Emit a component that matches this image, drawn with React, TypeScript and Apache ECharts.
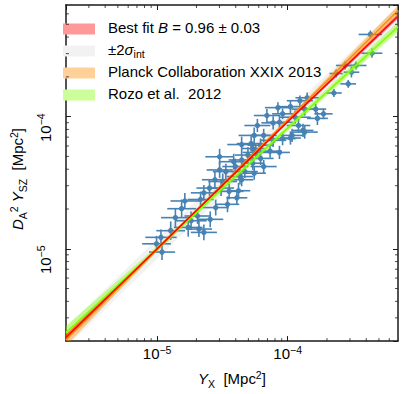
import React, { useEffect, useRef } from 'react';
import * as echarts from 'echarts';

// ---- Data ----
const axisMin = 2e-6;
const axisMax = 7e-4;

// Y_X [Mpc^2]
const yxValues = [
  4.30e-4, 4.42e-4, 2.75e-4, 3.34e-4, 3.08e-4, 2.35e-4, 2.91e-4, 2.26e-4,
  1.41e-4, 1.24e-4, 1.05e-4, 8.42e-5, 1.64e-4, 1.35e-4, 6.93e-5, 9.14e-5,
  1.88e-4, 1.14e-4, 1.69e-4, 8.65e-5, 7.74e-5, 1.31e-4, 1.35e-4, 1.08e-4,
  9.14e-5, 1.05e-4, 6.55e-5, 5.54e-5, 7.74e-5, 5.25e-5, 6.20e-5, 4.44e-5,
  7.33e-5, 8.65e-5, 5.70e-5, 4.96e-5, 6.20e-5, 4.44e-5, 3.86e-5, 5.40e-5,
  3.97e-5, 3.01e-5, 3.01e-5, 4.69e-5, 3.36e-5, 5.54e-5, 4.31e-5, 4.44e-5,
  2.77e-5, 3.18e-5, 2.52e-5, 3.09e-5, 3.56e-5, 4.20e-5, 2.28e-5, 4.08e-5,
  2.15e-5, 1.63e-5, 2.81e-5, 3.46e-5, 1.54e-5, 2.04e-5, 1.38e-5, 2.55e-5,
  1.82e-5, 1.73e-5, 2.09e-5, 2.28e-5, 1.07e-5, 1.27e-5, 9.89e-6, 1.09e-5,
  5.86e-5, 1.21e-4, 5.40e-5, 6.55e-5,
];
// D_A^2 Y_SZ [Mpc^2]
const yszValues = [
  4.19e-4, 3.02e-4, 2.44e-4, 2.44e-4, 2.17e-4, 2.12e-4, 1.77e-4, 1.51e-4,
  1.39e-4, 1.32e-4, 1.19e-4, 1.17e-4, 1.14e-4, 1.14e-4, 1.02e-4, 1.05e-4,
  1.05e-4, 9.90e-5, 9.70e-5, 9.07e-5, 8.97e-5, 7.87e-5, 7.64e-5, 7.21e-5,
  6.81e-5, 6.89e-5, 7.21e-5, 7.21e-5, 6.62e-5, 6.25e-5, 6.08e-5, 6.15e-5,
  5.48e-5, 5.36e-5, 5.36e-5, 5.12e-5, 4.83e-5, 4.70e-5, 4.56e-5, 4.44e-5,
  4.19e-5, 4.97e-5, 3.95e-5, 3.84e-5, 3.84e-5, 3.73e-5, 3.52e-5, 3.33e-5,
  3.33e-5, 3.23e-5, 2.88e-5, 2.88e-5, 2.72e-5, 2.75e-5, 2.65e-5, 2.43e-5,
  2.36e-5, 2.30e-5, 2.05e-5, 2.17e-5, 2.01e-5, 1.77e-5, 1.72e-5, 1.67e-5,
  1.63e-5, 1.45e-5, 1.41e-5, 1.33e-5, 1.22e-5, 1.37e-5, 1.09e-5, 9.44e-6,
  8.57e-5, 8.57e-5, 5.74e-5, 4.19e-5,
];
// half-length of the error bars, in dex
const yxErrDex = [
  0.09, 0.08, 0.07, 0.08, 0.06, 0.05, 0.06, 0.06,
  0.09, 0.10, 0.10, 0.10, 0.08, 0.10, 0.10, 0.08,
  0.07, 0.12, 0.08, 0.10, 0.09, 0.08, 0.10, 0.09,
  0.10, 0.08, 0.10, 0.12, 0.10, 0.11, 0.10, 0.11,
  0.09, 0.08, 0.10, 0.10, 0.10, 0.10, 0.11, 0.09,
  0.10, 0.11, 0.10, 0.10, 0.10, 0.09, 0.10, 0.09,
  0.10, 0.11, 0.10, 0.10, 0.11, 0.09, 0.10, 0.08,
  0.10, 0.11, 0.10, 0.09, 0.11, 0.10, 0.11, 0.10,
  0.12, 0.11, 0.10, 0.10, 0.12, 0.11, 0.11, 0.10,
  0.10, 0.09, 0.09, 0.10,
];
const yszErrDex = [
  0.03, 0.035, 0.03, 0.03, 0.04, 0.03, 0.03, 0.03,
  0.04, 0.04, 0.05, 0.04, 0.04, 0.05, 0.05, 0.04,
  0.04, 0.05, 0.05, 0.05, 0.05, 0.05, 0.05, 0.05,
  0.05, 0.05, 0.05, 0.06, 0.05, 0.06, 0.05, 0.06,
  0.05, 0.05, 0.05, 0.06, 0.05, 0.06, 0.06, 0.05,
  0.06, 0.06, 0.06, 0.05, 0.06, 0.05, 0.06, 0.05,
  0.06, 0.06, 0.06, 0.06, 0.06, 0.06, 0.06, 0.05,
  0.06, 0.06, 0.06, 0.06, 0.07, 0.06, 0.07, 0.06,
  0.07, 0.07, 0.06, 0.06, 0.06, 0.07, 0.06, 0.06,
  0.05, 0.05, 0.05, 0.05,
];

// relations sampled at these Y_X values
const bandX = [2e-6, 1e-5, 1e-4, 7e-4];
const bestFit = [2.13e-6, 1.0e-5, 9.15e-5, 5.75e-4];
const bestFitLo = [2.03e-6, 0.98e-5, 8.95e-5, 5.5e-4];
const bestFitHi = [2.24e-6, 1.02e-5, 9.35e-5, 6.0e-4];
const sigmaLo = [1.79e-6, 8.4e-6, 7.7e-5, 4.83e-4];
const sigmaHi = [2.53e-6, 1.19e-5, 1.09e-4, 6.84e-4];
const planck = [2.04e-6, 9.9e-6, 9.44e-5, 6.37e-4];
const planckLo = [1.84e-6, 9.56e-6, 9.12e-5, 5.85e-4];
const planckHi = [2.26e-6, 1.025e-5, 9.77e-5, 6.94e-4];
const rozo = [2.32e-6, 1.0e-5, 8.18e-5, 4.78e-4];
const rozoLo = [2.07e-6, 9.55e-6, 7.81e-5, 4.39e-4];
const rozoHi = [2.6e-6, 1.047e-5, 8.57e-5, 5.2e-4];

const minorTicks = [
  3e-6, 4e-6, 5e-6, 6e-6, 7e-6, 8e-6, 9e-6,
  2e-5, 3e-5, 4e-5, 5e-5, 6e-5, 7e-5, 8e-5, 9e-5,
  2e-4, 3e-4, 4e-4, 5e-4, 6e-4,
];

const legendNames = ['Best fit', 'sigma', 'Planck', 'Rozo'];

// ---- Styles ----
const FONT = "'Liberation Sans', Arial, sans-serif";
const BLUE = '#4682b4';
const FRAME = '#1a1a1a';

const base = { fontSize: 15, fontFamily: FONT, color: '#000', lineHeight: 17, padding: [0, 0, 3, 0], verticalAlign: 'bottom' };
const rich = {
  t: { ...base },
  f: { ...base, padding: [0, 0, 3, 8] },
  i: { ...base, fontStyle: 'italic' },
  sup: { fontSize: 10.5, fontFamily: FONT, color: '#000', lineHeight: 11, padding: [0, 0, 9, 0], verticalAlign: 'bottom' },
  sub: { fontSize: 10.5, fontFamily: FONT, color: '#000', lineHeight: 11, padding: [0, 0, 0, 0], verticalAlign: 'bottom' },
};

const legendText: Record<string, string> = {
  'Best fit': '{f|Best fit }{i|B}{t| = 0.96 ± 0.03}',
  sigma: '{f|±2}{i|σ}{sub|int}',
  Planck: '{f|Planck Collaboration XXIX 2013}',
  Rozo: '{f|Rozo et al.  2012}',
};

function powerLabel(v: number) {
  const e = Math.log10(v);
  const r = Math.round(e);
  if (Math.abs(e - r) > 1e-6) return '';
  return `{t|10}{sup|${r < 0 ? '−' : ''}${Math.abs(r)}}`;
}

function bandSeries(name: string, lo: number[], hi: number[], fill: string, legendColor: string, z: number) {
  return {
    type: 'custom',
    name,
    z,
    clip: true,
    itemStyle: { color: legendColor },
    data: bandX.map((x, i) => [x, lo[i], hi[i]]),
    encode: { x: 0, y: [1, 2] },
    renderItem: (params: any, api: any) => {
      if (params.dataIndex !== 0) return null;
      const pts: number[][] = [];
      for (let i = 0; i < bandX.length; i++) pts.push(api.coord([bandX[i], hi[i]]));
      for (let i = bandX.length - 1; i >= 0; i--) pts.push(api.coord([bandX[i], lo[i]]));
      return { type: 'polygon', shape: { points: pts }, style: { fill } };
    },
  };
}

function lineSeries(values: number[], color: string, z: number) {
  return {
    type: 'line',
    z,
    silent: true,
    showSymbol: false,
    clip: true,
    data: bandX.map((x, i) => [x, values[i]]),
    lineStyle: { color, width: 1.5 },
  };
}

export default function App() {
  const ref = useRef<HTMLDivElement>(null);

  useEffect(() => {
    document.body.style.margin = '0';
    const chart = echarts.init(ref.current!, null, { renderer: 'svg' });

    const axisCommon = {
      type: 'log',
      logBase: 10,
      min: axisMin,
      max: axisMax,
      splitLine: { show: false },
      axisLine: { show: true, onZero: false, lineStyle: { color: FRAME, width: 1.5 } },
      axisTick: { show: true, inside: true, length: 5, lineStyle: { color: FRAME, width: 1 } },
      minorTick: { show: false },
    };

    const option: any = {
      animation: false,
      backgroundColor: '#fff',
      grid: { left: 48, right: 5, top: 5, bottom: 49, containLabel: false },
      xAxis: [
        {
          ...axisCommon,
          position: 'bottom',
          axisLabel: { show: true, margin: 6, formatter: powerLabel, rich, showMinLabel: false, showMaxLabel: false },
          name: '{i|Y}{sub|X}{t|  [Mpc}{sup|2}{t|]}',
          nameLocation: 'middle',
          nameGap: 26,
          nameTextStyle: { rich },
        },
        { ...axisCommon, position: 'top', axisLabel: { show: false } },
      ],
      yAxis: [
        {
          ...axisCommon,
          position: 'left',
          axisLabel: {
            show: true, margin: 10, rotate: 90, padding: [0, 22, 0, 0],
            formatter: powerLabel, rich, showMinLabel: false, showMaxLabel: false,
          },
          name: '{i|D}{sub|A}{sup|2}{t| }{i|Y}{sub|SZ}{t|  [Mpc}{sup|2}{t|]}',
          nameLocation: 'middle',
          nameGap: 36,
          nameTextStyle: { rich, padding: [0, 12, 0, 0] },
        },
        { ...axisCommon, position: 'right', axisLabel: { show: false } },
      ],
      legend: legendNames.map((n, k) => ({
        data: [{ name: n, icon: 'rect' }],
        left: 63,
        top: 19.5 + k * 22,
        padding: 0,
        itemWidth: 32,
        itemHeight: 11,
        selectedMode: false,
        formatter: (name: string) => legendText[name],
        textStyle: { rich, fontFamily: FONT, fontSize: 15 },
      })),
      series: [
        {
          type: 'custom',
          name: 'data',
          z: 1,
          data: yxValues.map((x, i) => [x, yszValues[i], yxErrDex[i], yszErrDex[i]]),
          encode: { x: 0, y: 1 },
          renderItem: (params: any, api: any) => {
            const x = api.value(0), y = api.value(1), ex = api.value(2), ey = api.value(3);
            const c = api.coord([x, y]);
            const l = api.coord([x / Math.pow(10, ex), y]);
            const r = api.coord([x * Math.pow(10, ex), y]);
            const b = api.coord([x, y / Math.pow(10, ey)]);
            const t = api.coord([x, y * Math.pow(10, ey)]);
            const st = { stroke: BLUE, lineWidth: 1.6 };
            return {
              type: 'group',
              children: [
                { type: 'line', shape: { x1: l[0], y1: l[1], x2: r[0], y2: r[1] }, style: st },
                { type: 'line', shape: { x1: b[0], y1: b[1], x2: t[0], y2: t[1] }, style: st },
                { type: 'circle', shape: { cx: c[0], cy: c[1], r: 2.7 }, style: { fill: BLUE } },
              ],
            };
          },
        },
        bandSeries('sigma', sigmaLo, sigmaHi, 'rgba(128,128,128,0.1)', '#f2f2f2', 2),
        bandSeries('Rozo', rozoLo, rozoHi, 'rgba(127,255,0,0.4)', '#ccff99', 3),
        bandSeries('Planck', planckLo, planckHi, 'rgba(255,140,0,0.4)', '#ffd199', 4),
        bandSeries('Best fit', bestFitLo, bestFitHi, 'rgba(255,0,0,0.4)', '#ff9999', 5),
        lineSeries(rozo, '#7fff00', 6),
        lineSeries(planck, '#ff8c00', 7),
        lineSeries(bestFit, '#ff0000', 8),
        {
          type: 'custom',
          name: 'minor',
          z: 10,
          silent: true,
          clip: false,
          data: minorTicks.map((v) => [v, v]),
          encode: { x: 0, y: 1 },
          renderItem: (params: any, api: any) => {
            const cs = params.coordSys;
            const v = api.value(0);
            const px = api.coord([v, axisMin])[0];
            const py = api.coord([axisMin, v])[1];
            const st = { stroke: FRAME, lineWidth: 0.8 };
            const L = 3;
            return {
              type: 'group',
              children: [
                { type: 'line', shape: { x1: px, y1: cs.y + cs.height, x2: px, y2: cs.y + cs.height - L }, style: st },
                { type: 'line', shape: { x1: px, y1: cs.y, x2: px, y2: cs.y + L }, style: st },
                { type: 'line', shape: { x1: cs.x, y1: py, x2: cs.x + L, y2: py }, style: st },
                { type: 'line', shape: { x1: cs.x + cs.width, y1: py, x2: cs.x + cs.width - L, y2: py }, style: st },
              ],
            };
          },
        },
      ],
    };

    chart.setOption(option);
    return () => chart.dispose();
  }, []);

  return <div ref={ref} style={{ width: 403, height: 394 }} />;
}
